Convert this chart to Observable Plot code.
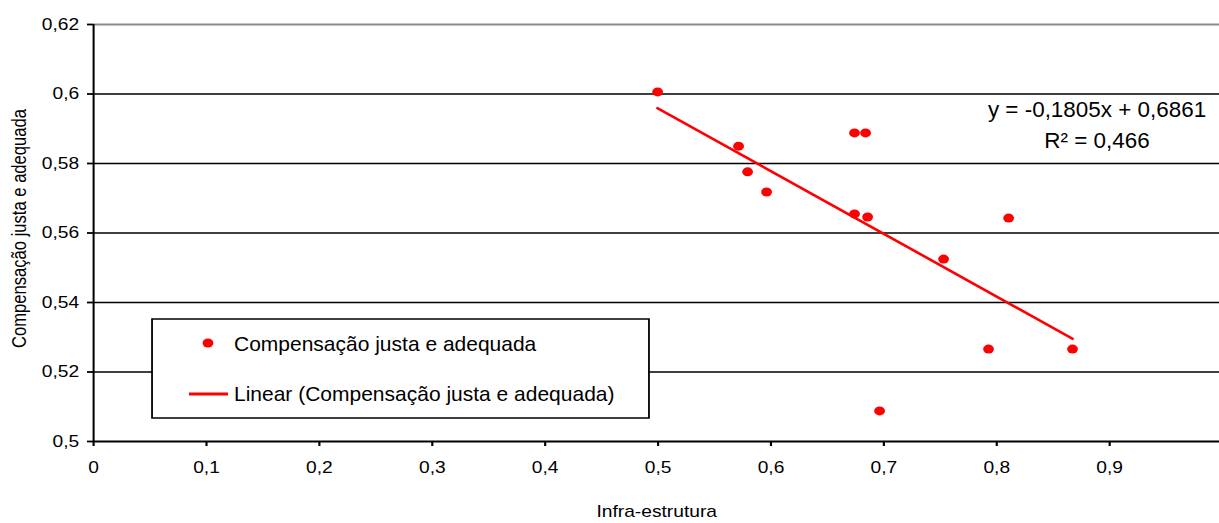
<!DOCTYPE html>
<html><head><meta charset="utf-8">
<script src="https://cdn.jsdelivr.net/npm/d3@7"></script>
<script src="https://cdn.jsdelivr.net/npm/@observablehq/plot@0.6"></script>
<style>
html,body{margin:0;padding:0;background:#fff;overflow:hidden;}
#chart{width:1219px;height:523px;overflow:hidden;}
#chart svg{transform:scaleX(1.2);transform-origin:0 0;}
</style></head><body><div id="chart"></div>
<script>
// Data
const xValues = [0.4996, 0.5713, 0.5793, 0.5961, 0.6740, 0.6838, 0.6740, 0.6856, 0.7529, 0.8105, 0.7927, 0.8671, 0.6962];
const yValues = [0.6006, 0.5850, 0.5776, 0.5718, 0.5888, 0.5888, 0.5655, 0.5646, 0.5525, 0.5643, 0.5266, 0.5266, 0.5088];
const seriesName = "Compensação justa e adequada";
const trendName = "Linear (Compensação justa e adequada)";
const xTitle = "Infra-estrutura";
const yTitle = "Compensação justa e adequada";
const xTicks = [0, 0.1, 0.2, 0.3, 0.4, 0.5, 0.6, 0.7, 0.8, 0.9];
const yTicks = [0.5, 0.52, 0.54, 0.56, 0.58, 0.6, 0.62];
const slope = -0.1805;
const intercept = 0.6861;
const r2 = 0.466;

const fmt = d => String(+(+d).toFixed(4)).replace(".", ",");
const points = xValues.map((x, i) => ({x, y: yValues[i]}));
const trend = d3.extent(xValues).map(x => ({x, y: intercept + slope * x}));
const FONT = "'Liberation Sans', Arial, sans-serif";

const chart = Plot.plot({
  width: 1016, height: 523,
  marginLeft: 77.5, marginRight: 0, marginTop: 24, marginBottom: 82,
  style: {fontFamily: FONT, fontSize: "16px", color: "#000", background: "#fff"},
  x: {domain: [0, 1], range: [77.5, 1018.3], ticks: xTicks, tickFormat: fmt, tickSize: 5, tickPadding: 15, label: null},
  y: {domain: [0.5, 0.62], ticks: yTicks, tickFormat: fmt, tickSize: 5, tickPadding: 7, label: null},
  marks: [
    Plot.ruleY(yTicks.filter(d => d > 0.5 && d < 0.62), {stroke: "#000", strokeWidth: 1.6}),
    Plot.ruleY([0.62], {stroke: "#8c8c8c", strokeWidth: 2}),
    Plot.ruleY([0.5], {stroke: "#000", strokeWidth: 2}),
    Plot.ruleX([0], {stroke: "#000", strokeWidth: 1.7}),
    Plot.line(trend, {x: "x", y: "y", stroke: "#ff0000", strokeWidth: 2.5}),
    Plot.dot(points, {x: "x", y: "y", r: 4.5, fill: "#ff0000"}),
    Plot.text([yTitle], {frameAnchor: "left", textAnchor: "middle", dx: -61.25, dy: -4.5, rotate: -90, text: d => d, fontSize: 16.6}),
    Plot.text([xTitle], {frameAnchor: "bottom", textAnchor: "middle", dy: 75, text: d => d, fontSize: 16})
  ]
});
document.getElementById("chart").appendChild(chart);

const svg = d3.select(chart);
svg.selectAll("[aria-label*='axis'] line, [aria-label*='tick'] path").attr("stroke-width", 1.8);

// Trendline equation
const eq = svg.append("g").attr("font-family", FONT).attr("font-size", 21.5).attr("fill", "#000").attr("text-anchor", "middle");
eq.append("text").attr("transform", "translate(914.2,116.7) scale(0.87,1)").text(`y = ${fmt(slope)}x + ${fmt(intercept)}`);
eq.append("text").attr("transform", "translate(914.2,148) scale(0.87,1)").text(`R² = ${fmt(r2)}`);

// Legend
const lg = svg.append("g").attr("font-family", FONT).attr("font-size", 20).attr("fill", "#000").attr("text-anchor", "start");
lg.append("rect").attr("x", 126.7).attr("y", 319).attr("width", 414.1).attr("height", 99)
  .attr("fill", "#fff").attr("stroke", "#000").attr("stroke-width", 1.5);
lg.append("circle").attr("cx", 173.3).attr("cy", 343).attr("r", 4.5).attr("fill", "#ff0000");
lg.append("text").attr("transform", "translate(195,351) scale(0.875,1)").text(seriesName);
lg.append("line").attr("x1", 157.5).attr("x2", 190).attr("y1", 394).attr("y2", 394)
  .attr("stroke", "#ff0000").attr("stroke-width", 3);
lg.append("text").attr("transform", "translate(195,401) scale(0.875,1)").text(trendName);
</script>
</body></html>
